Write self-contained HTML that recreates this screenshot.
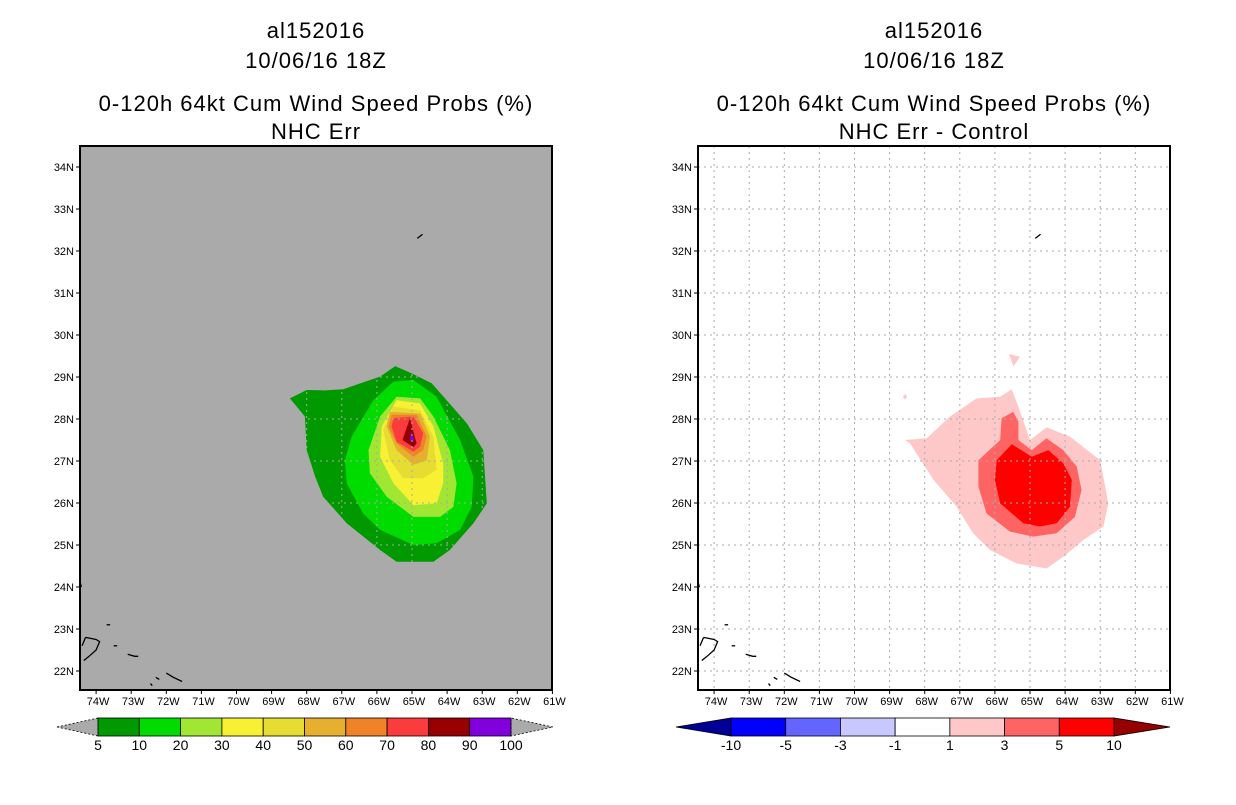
<!DOCTYPE html>
<html><head><meta charset="utf-8"><style>
body{margin:0;background:#fff;width:1236px;height:800px;overflow:hidden}
svg text{font-family:"Liberation Sans",sans-serif}
</style></head><body>
<svg id="c" width="1236" height="800" xmlns="http://www.w3.org/2000/svg"></svg>
<script>
const lonTicks=[-74,-73,-72,-71,-70,-69,-68,-67,-66,-65,-64,-63,-62,-61];
const latTicks=[22,23,24,25,26,27,28,29,30,31,32,33,34];
const leftLevels=["5","10","20","30","40","50","60","70","80","90","100"];
const leftColors=["#009900","#00dc00","#a0e632","#f8f032","#e6dc32","#e6af2d","#f08228","#fa3c3c","#960000","#8200dc"];
const rightLevels=["-10","-5","-3","-1","1","3","5","10"];
const rightColors=["#000096","#0000ff","#6464ff","#c8c8ff","#ffffff","#ffc8c8","#ff6464","#ff0000","#960000"];
const prob5=[[-68.48,28.49],[-68.0,28.69],[-67.48,28.68],[-66.96,28.71],[-65.91,29.01],[-65.48,29.26],[-64.96,29.07],[-64.44,28.85],[-63.44,27.9],[-62.97,27.26],[-62.87,25.99],[-63.25,25.52],[-63.92,24.88],[-64.39,24.6],[-65.44,24.6],[-65.91,24.88],[-66.86,25.52],[-67.53,26.15],[-67.76,26.63],[-68.0,27.26],[-68.05,28.06]];
const prob10=[[-65.53,28.89],[-64.96,28.93],[-64.3,28.53],[-63.63,27.5],[-63.25,26.63],[-63.3,25.91],[-63.63,25.36],[-64.3,25.04],[-64.96,25.0],[-65.91,25.36],[-66.39,25.75],[-66.86,26.47],[-66.91,27.02],[-66.72,27.58],[-66.1,28.45]];
const prob20=[[-65.44,28.53],[-64.77,28.49],[-64.39,28.06],[-63.92,27.26],[-63.73,26.47],[-63.82,25.91],[-64.2,25.67],[-64.96,25.67],[-65.72,26.15],[-66.2,26.71],[-66.24,27.26],[-65.91,28.06]];
const prob30=[[-65.44,28.45],[-64.77,28.37],[-64.39,27.82],[-64.11,26.94],[-64.11,26.47],[-64.3,25.99],[-64.96,25.95],[-65.53,26.47],[-65.91,27.1],[-65.86,27.82]];
const prob40=[[-65.53,28.29],[-64.77,28.21],[-64.39,27.58],[-64.3,26.79],[-64.68,26.59],[-65.25,26.59],[-65.63,27.02],[-65.82,27.74]];
const prob50=[[-65.63,28.17],[-64.77,28.13],[-64.49,27.58],[-64.58,27.02],[-64.96,26.91],[-65.44,27.26],[-65.72,27.82]];
const prob60=[[-65.58,28.1],[-64.87,28.1],[-64.58,27.58],[-64.68,27.26],[-64.96,27.1],[-65.44,27.42],[-65.67,27.82]];
const prob70=[[-65.53,28.02],[-64.96,28.06],[-64.68,27.66],[-64.77,27.34],[-64.96,27.22],[-65.44,27.46],[-65.58,27.82]];
const prob80=[[-65.06,28.02],[-64.87,27.42],[-64.96,27.33],[-65.27,27.5]];
const prob90=[[-65.01,27.7],[-64.94,27.48],[-65.07,27.48]];
const diff1=[[-68.56,27.5],[-67.94,27.54],[-67.28,28.06],[-66.52,28.49],[-65.85,28.53],[-65.52,28.71],[-65.33,28.29],[-65.0,27.5],[-64.53,27.8],[-63.86,27.58],[-63.0,27.02],[-62.77,25.99],[-62.91,25.44],[-63.48,25.12],[-64.05,24.72],[-64.53,24.44],[-65.38,24.56],[-66.14,24.88],[-66.62,25.28],[-67.09,25.91],[-67.75,26.55],[-68.42,27.42]];
const diff1b=[[-68.56,28.6],[-68.5,28.53],[-68.56,28.46],[-68.62,28.53]];
const diff1c=[[-65.6,29.55],[-65.29,29.48],[-65.47,29.25]];
const diff3=[[-65.81,28.02],[-65.48,28.17],[-65.33,27.94],[-65.33,27.5],[-64.95,27.26],[-64.53,27.54],[-64.05,27.26],[-63.67,26.87],[-63.53,26.31],[-63.72,25.67],[-64.24,25.28],[-64.91,25.2],[-65.57,25.32],[-66.24,25.75],[-66.47,26.39],[-66.47,27.02],[-65.85,27.5]];
const diff5=[[-65.52,27.4],[-64.95,27.1],[-64.48,27.26],[-64.05,26.94],[-63.81,26.55],[-63.86,25.91],[-64.24,25.52],[-64.72,25.44],[-65.19,25.52],[-65.85,25.99],[-66.0,26.55],[-65.95,27.02]];

const svg=document.getElementById('c');
const NS='http://www.w3.org/2000/svg';
function mk(tag,attrs,parent){const e=document.createElementNS(NS,tag);for(const k in attrs)e.setAttribute(k,attrs[k]);(parent||svg).appendChild(e);return e;}
function panel(ox,bg,polys,titles,levels,colors,name){
  const g=mk('g',{});
  
  
  const X=lon=>ox+412+(lon+65)*35.1-80;
  const Y=lat=>419-(lat-28)*42;
  const L=ox, R=ox+472, T=146, B=690;
  const bgR=mk('rect',{x:L,y:T,width:R-L,height:B-T,fill:bg},g);
  
  
  polys.forEach(p=>{
    const e=mk('polygon',{points:p.d.map(q=>X(q[0]).toFixed(1)+','+Y(q[1]).toFixed(1)).join(' '),fill:p.c},g);
    
    
  });
  lonTicks.forEach(t=>{const x=X(t);if(x>L+1&&x<R-1)mk('line',{x1:x,y1:T,x2:x,y2:B,stroke:'#aaa','stroke-dasharray':'2,4','stroke-width':1},g);});
  latTicks.forEach(t=>{const y=Y(t);mk('line',{x1:L,y1:y,x2:R,y2:y,stroke:'#aaa','stroke-dasharray':'2,4','stroke-width':1},g);});
  const coast=[[[-64.85,32.3],[-64.7,32.4]],[[-74.45,24.1],[-74.42,24.0]],[[-73.7,23.1],[-73.6,23.1]],[[-74.3,22.8],[-74.0,22.75],[-73.9,22.7],[-74.0,22.5],[-74.2,22.35],[-74.35,22.25]],[[-74.4,22.6],[-74.3,22.8]],[[-73.5,22.6],[-73.4,22.6]],[[-73.1,22.4],[-72.9,22.35],[-72.8,22.35]],[[-72.3,21.85],[-72.2,21.8]],[[-72.0,21.95],[-71.8,21.85],[-71.55,21.75]],[[-72.45,21.7],[-72.4,21.65]]];
  coast.forEach(c=>{const e=mk('polyline',{points:c.map(q=>X(q[0])+','+Y(q[1])).join(' '),fill:'none',stroke:'#000','stroke-width':1.3},g);});
  const fr=mk('rect',{x:L,y:T,width:R-L,height:B-T,fill:'none',stroke:'#000','stroke-width':2},g);
  
  lonTicks.forEach(t=>{const x=X(t);mk('line',{x1:x,y1:B,x2:x,y2:B+4,stroke:'#000'},g);
    const tx=mk('text',{x:x+2,y:B+15,'font-size':11,'text-anchor':'middle'},g);tx.textContent=(-t)+'W';
    });
  latTicks.forEach(t=>{const y=Y(t);mk('line',{x1:L-4,y1:y,x2:L,y2:y,stroke:'#000'},g);
    const tx=mk('text',{x:L-6,y:y+4,'font-size':11,'text-anchor':'end'},g);tx.textContent=t+'N';
    });
  const cx=(L+R)/2;
  [[30,titles[0]],[60,titles[1]],[103,titles[2]],[131,titles[3]]].forEach(a=>{
    const tx=mk('text',{x:cx,y:a[0]+8,'font-size':22,'text-anchor':'middle','letter-spacing':'1'},g);tx.textContent=a[1];
    });
  const bl=levels.length===11?98:731, br=levels.length===11?511:1114, w=(br-bl)/(levels.length-1);
  const tl=levels.length===11?57:676, tr=levels.length===11?553:1170;
  const cb=mk('g',{},g);
  const lc=levels.length===11?'#aaa':colors[0], rc=levels.length===11?'#aaa':colors[colors.length-1];
  mk('polygon',{points:`${tl},727 ${bl},718 ${bl},736`,fill:lc,stroke:'#000','stroke-width':0.8,'stroke-dasharray':levels.length===11?'2,2':''},cb);
  mk('polygon',{points:`${tr},727 ${br},718 ${br},736`,fill:rc,stroke:'#000','stroke-width':0.8,'stroke-dasharray':levels.length===11?'2,2':''},cb);
  const inner=levels.length===11?colors:colors.slice(1,-1);
  inner.forEach((c,i)=>{mk('rect',{x:bl+i*w,y:718,width:w,height:18,fill:c,stroke:'#000','stroke-width':0.8},cb);});
  levels.forEach((lv,i)=>{const tx=mk('text',{x:bl+i*w,y:750,'font-size':14,'text-anchor':'middle'},cb);tx.textContent=lv;
    });
}
panel(80,'#aaaaaa',[{d:prob5,c:leftColors[0],n:'5'},{d:prob10,c:leftColors[1],n:'10'},{d:prob20,c:leftColors[2],n:'20'},{d:prob30,c:leftColors[3],n:'30'},{d:prob40,c:leftColors[4],n:'40'},{d:prob50,c:leftColors[5],n:'50'},{d:prob60,c:leftColors[6],n:'60'},{d:prob70,c:leftColors[7],n:'70'},{d:prob80,c:leftColors[8],n:'80'},{d:prob90,c:leftColors[9],n:'90'}],
 ['al152016','10/06/16 18Z','0-120h 64kt Cum Wind Speed Probs (%)','NHC Err'],leftLevels,leftColors,'left-panel');
panel(698,'#ffffff',[{d:diff1,c:'#ffc8c8',n:'1'},{d:diff1b,c:'#ffc8c8',n:'1b'},{d:diff1c,c:'#ffc8c8',n:'1c'},{d:diff3,c:'#ff6464',n:'3'},{d:diff5,c:'#ff0000',n:'5'}],
 ['al152016','10/06/16 18Z','0-120h 64kt Cum Wind Speed Probs (%)','NHC Err - Control'],rightLevels,rightColors,'right-panel');
</script>
</body></html>
